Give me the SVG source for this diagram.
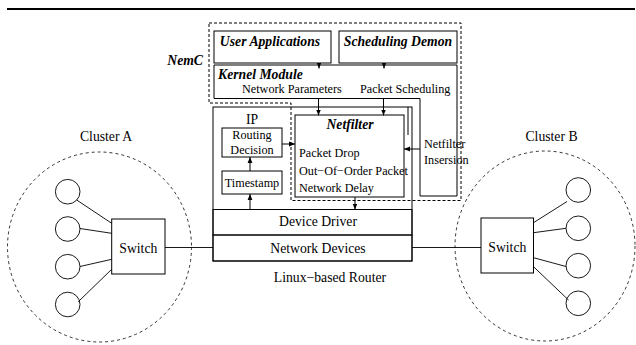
<svg xmlns="http://www.w3.org/2000/svg" width="636" height="345" viewBox="0 0 636 345">
<style>
.b{fill:none;stroke:#000;stroke-width:1}
.d{fill:none;stroke:#000;stroke-width:1;stroke-dasharray:3,2}
.dc{fill:none;stroke:#000;stroke-width:0.8;stroke-dasharray:3,3}
.c{fill:none;stroke:#000;stroke-width:0.9}
.t{font-family:"Liberation Serif","Times New Roman",serif;font-size:12.2px;fill:#000}
.tl{font-family:"Liberation Serif","Times New Roman",serif;font-size:13.7px;fill:#000}
.bi{font-family:"Liberation Serif","Times New Roman",serif;font-size:13.7px;font-weight:bold;font-style:italic;fill:#000}
.m{text-anchor:middle}
</style>
<defs>
<marker id="ah" viewBox="0 0 6 6" refX="6" refY="3" markerWidth="6" markerHeight="6" markerUnits="userSpaceOnUse" orient="auto">
<path d="M0,0.6 L6,3 L0,5.4 Z" fill="#000"/>
</marker>
</defs>
<line x1="7" y1="9" x2="635" y2="9" stroke="#000" stroke-width="2.2"/>

<g id="nemc">
<path class="d" d="M209,23 H461 V200.5 H291 V103 H209 Z"/>
<text class="bi" x="203" y="65" text-anchor="end">NemC</text>
</g>

<g id="user-applications">
<rect class="b" x="214" y="31" width="117" height="32"/>
<text class="bi m" x="270" y="46">User Applications</text>
</g>

<g id="scheduling-demon">
<rect class="b" x="339" y="31" width="118" height="32"/>
<text class="bi m" x="398" y="46">Scheduling Demon</text>
</g>

<g id="kernel-module">
<path class="b" d="M214,65 H457 V196 H420 V98.5 H214 Z"/>
<text class="bi" x="218" y="78.5">Kernel Module</text>
<text class="t" x="242" y="92.5">Network Parameters</text>
<text class="t" x="360" y="92.5">Packet Scheduling</text>
<text class="t" x="424" y="148">Netfilter</text>
<text class="t" x="424" y="164">Insersion</text>
</g>

<g id="linux-router">
<rect class="b" x="213" y="107" width="199" height="154"/>
<line class="b" x1="408" y1="107" x2="408" y2="135"/>
<text class="tl m" x="252" y="124">IP</text>
<text class="tl m" x="330" y="281.5">Linux−based Router</text>
</g>

<g id="routing-decision">
<rect class="b" x="222" y="128" width="60" height="29"/>
<text class="t m" x="252" y="138.5">Routing</text>
<text class="t m" x="252" y="153.5">Decision</text>
</g>

<g id="timestamp">
<rect class="b" x="222" y="171" width="60" height="23"/>
<text class="t m" x="252" y="187">Timestamp</text>
</g>

<g id="netfilter">
<rect class="b" x="295" y="115" width="109" height="82"/>
<text class="bi m" x="350" y="129">Netfilter</text>
<text class="t" x="299" y="157">Packet Drop</text>
<text class="t" x="299" y="175">Out−Of−Order Packet</text>
<text class="t" x="299" y="191.5">Network Delay</text>
</g>

<g id="device-driver">
<rect class="b" x="213" y="209.5" width="199" height="25.5"/>
<text class="tl m" x="318" y="226">Device Driver</text>
</g>

<g id="network-devices">
<rect class="b" x="213" y="235" width="199" height="26"/>
<text class="tl m" x="318" y="252.5">Network Devices</text>
</g>

<g id="cluster-a">
<ellipse class="dc" cx="99.5" cy="247" rx="92" ry="95"/>
<text class="tl m" x="106" y="141">Cluster A</text>
<circle class="c" cx="67.7" cy="191.7" r="12.3"/>
<circle class="c" cx="67.7" cy="229" r="12.3"/>
<circle class="c" cx="67.7" cy="266.7" r="12.3"/>
<circle class="c" cx="67.7" cy="304.5" r="12.3"/>
</g>

<g id="switch-a">
<rect class="b" x="111.7" y="219" width="53.3" height="55"/>
<text class="tl m" x="138.3" y="252.5">Switch</text>
</g>

<g id="cluster-b">
<ellipse class="dc" cx="545" cy="246" rx="90" ry="95"/>
<text class="tl m" x="551.5" y="140.5">Cluster B</text>
<circle class="c" cx="578.3" cy="190" r="12.3"/>
<circle class="c" cx="578.3" cy="228.3" r="12.3"/>
<circle class="c" cx="578.3" cy="265.7" r="12.3"/>
<circle class="c" cx="578.3" cy="303.3" r="12.3"/>
</g>

<g id="switch-b">
<rect class="b" x="481" y="218" width="52.5" height="55"/>
<text class="tl m" x="507.3" y="251.5">Switch</text>
</g>

<g id="connectors">
<line class="b" x1="319" y1="63" x2="319" y2="68.5" marker-end="url(#ah)"/>
<line class="b" x1="384" y1="63" x2="384" y2="68.5" marker-end="url(#ah)"/>
<line class="b" x1="318.5" y1="98.5" x2="318.5" y2="115.5" marker-end="url(#ah)"/>
<line class="b" x1="383.5" y1="98.5" x2="383.5" y2="115.5" marker-end="url(#ah)"/>
<line class="b" x1="282" y1="144" x2="295" y2="144" marker-end="url(#ah)"/>
<line class="b" x1="420" y1="149" x2="404" y2="149" marker-end="url(#ah)"/>
<line class="b" x1="250" y1="171" x2="250" y2="157" marker-end="url(#ah)"/>
<line class="b" x1="250" y1="209.5" x2="250" y2="194" marker-end="url(#ah)"/>
<line class="b" x1="355" y1="197" x2="355" y2="209.5" marker-end="url(#ah)"/>
<line class="c" x1="165" y1="247.5" x2="213" y2="247.5"/>
<line class="c" x1="412" y1="247.5" x2="481" y2="247.5"/>
<line class="c" x1="76.7" y1="200" x2="111.7" y2="223.3"/>
<line class="c" x1="80" y1="228.5" x2="111.7" y2="233.3"/>
<line class="c" x1="80" y1="266.5" x2="111.7" y2="259.3"/>
<line class="c" x1="78.3" y1="301.7" x2="111.7" y2="269.3"/>
<line class="c" x1="533.5" y1="222.7" x2="567" y2="201.5"/>
<line class="c" x1="533.5" y1="232.7" x2="566" y2="228.3"/>
<line class="c" x1="533.5" y1="257.7" x2="566" y2="266.5"/>
<line class="c" x1="533.5" y1="266.7" x2="568.5" y2="300"/>
</g>
</svg>
